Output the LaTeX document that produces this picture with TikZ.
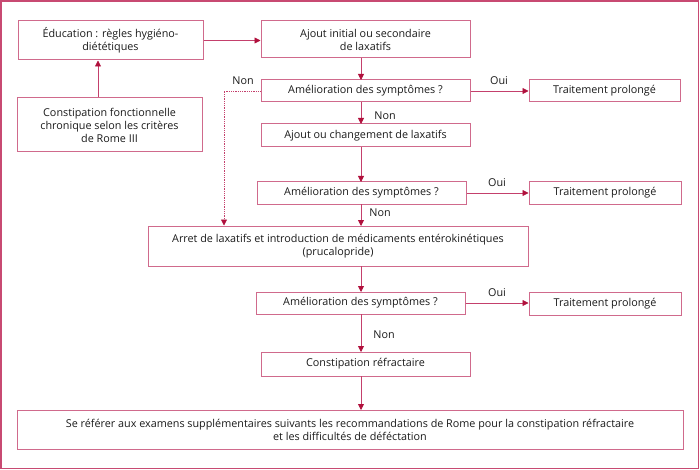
\documentclass[tikz,border=0pt]{standalone}
\usepackage{fontspec}
\setmainfont{Open Sans}
\usetikzlibrary{arrows.meta}
\definecolor{frame}{HTML}{C84A72}
\definecolor{boxc}{HTML}{D06A8C}
\definecolor{linec}{HTML}{C4406C}
\definecolor{tipc}{HTML}{B0103C}
\definecolor{txt}{HTML}{1A1A1A}
\begin{document}
\begin{tikzpicture}[x=1pt,y=-1pt,
  font=\fontsize{10.8}{13}\selectfont, text=txt,
  bx/.style={draw=boxc,line width=1pt,align=center,inner sep=0pt},
  arr/.style={draw=linec,line width=0.8pt,-{Triangle[length=6pt,width=6pt,color=tipc]}},
  dotarr/.style={draw=linec,line width=0.8pt,densely dotted,-{Triangle[length=6pt,width=6pt,color=tipc]}},
  lbl/.style={inner sep=0pt}]
\useasboundingbox (0,0) rectangle (700,470);
\draw[frame,line width=1.2pt] (1,1) rectangle (698.5,468.5);
% boxes
\node[bx,minimum width=185pt,minimum height=39pt] (edu) at (110.5,40.5) {Éducation : règles hygiéno-\\diététiques};
\node[bx,minimum width=185pt,minimum height=54pt] (cfc) at (109.5,125) {Constipation fonctionnelle\\chronique selon les critères\\de Rome III};
\node[bx,minimum width=209pt,minimum height=37pt] (ajout) at (365.5,39.5) {Ajout initial ou secondaire\\de laxatifs};
\node[bx,minimum width=209pt,minimum height=22pt] (am1) at (365.5,91) {Amélioration des symptômes ?};
\node[bx,minimum width=151pt,minimum height=22pt] (tp1) at (604.5,91) {Traitement prolongé};
\node[bx,minimum width=209pt,minimum height=23pt] (chg) at (365.5,135.5) {Ajout ou changement de laxatifs};
\node[bx,minimum width=209pt,minimum height=22pt] (am2) at (361.5,193) {Amélioration des symptômes ?};
\node[bx,minimum width=152pt,minimum height=22pt] (tp2) at (605,193) {Traitement prolongé};
\node[bx,minimum width=380pt,minimum height=40pt] (arret) at (338,246) {Arret de laxatifs et introduction de médicaments entérokinétiques\\(prucalopride)};
\node[bx,minimum width=209pt,minimum height=22pt] (am3) at (360.5,303) {Amélioration des symptômes ?};
\node[bx,minimum width=152pt,minimum height=23pt] (tp3) at (605,303.5) {Traitement prolongé};
\node[bx,minimum width=209pt,minimum height=24pt] (ref) at (365.5,364) {Constipation réfractaire};
\node[bx,minimum width=666pt,minimum height=39pt] (sref) at (350,429.5) {Se référer aux examens supplémentaires suivants les recommandations de Rome pour la constipation réfractaire\\et les difficultés de déféctation};
% connectors
\draw[arr] (edu.east) -- (ajout.west |- edu.east);
\draw[arr] (cfc.north -| 98,0) -- (edu.south -| 98,0);
\draw[arr] (361,58) -- (361,80);
\draw[arr] (361,102) -- (361,124);
\draw[arr] (361,147) -- (361,182);
\draw[arr] (361,204) -- (361,226);
\draw[arr] (361,266) -- (361,292);
\draw[arr] (361,314) -- (361,352);
\draw[arr] (361,376) -- (361,410);
\draw[arr] (am1.east) -- (tp1.west);
\draw[arr] (am2.east) -- (tp2.west |- am2.east);
\draw[arr] (am3.east) -- (tp3.west |- am3.east);
\coordinate (dc) at (224,91);
\draw[dotarr] (am1.west) -- (dc) -- (dc |- arret.north);
% labels
\node[lbl] (n1) at (385,116) {Non};
\node[lbl] (n2) at (380,213) {Non};
\node[lbl] (n3) at (384,334.5) {Non};
\node[lbl] (n0) at (243,80.5) {Non};
\node[lbl] (o1) at (499,80.5) {Oui};
\node[lbl] (o2) at (497,182.5) {Oui};
\node[lbl] (o3) at (497,293) {Oui};
\end{tikzpicture}
\end{document}
